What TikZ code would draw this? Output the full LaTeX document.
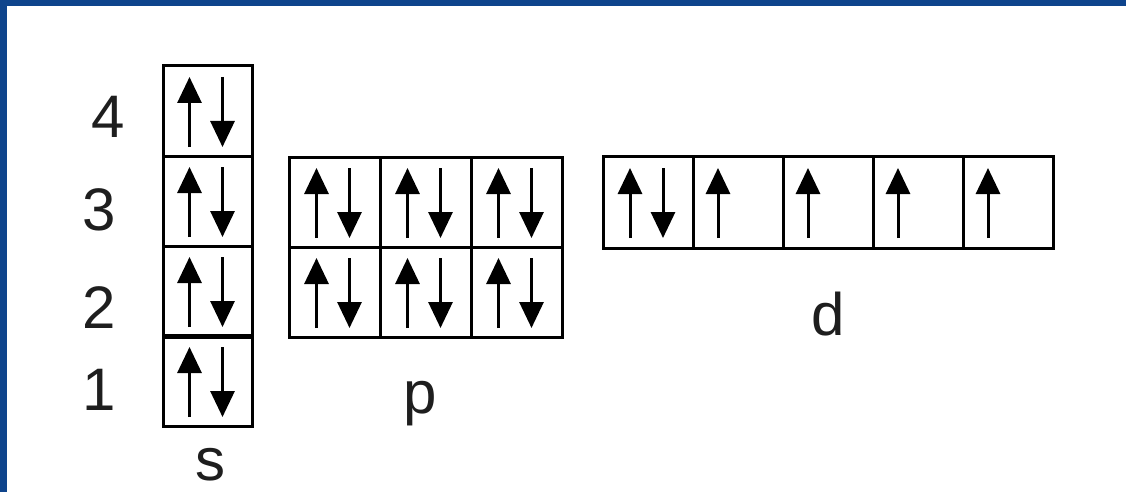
\documentclass[tikz,border=0pt]{standalone}
\usepackage{fontspec}
\setmainfont{Liberation Sans}
\usetikzlibrary{arrows.meta}
\definecolor{slideblue}{RGB}{14,68,140}
\definecolor{labelgray}{RGB}{30,30,30}
\tikzset{
  orb/.style={draw=black, line width=3pt, minimum width=89pt, minimum height=90pt, inner sep=0pt, outer sep=0pt},
  spin/.style={line width=3pt, -{Triangle[width=24pt,length=26pt]}},
  lbl/.style={font=\fontsize{60}{64}\selectfont, text=labelgray, inner sep=0pt, anchor=base}
}
\begin{document}
\begin{tikzpicture}[x=1pt,y=-1pt]
\useasboundingbox (0,0) rectangle (1126,492);
\fill[slideblue] (0,0) rectangle (1126,492);
\fill[white] (7,6) rectangle (1126,492);
% s column
\node[orb] (s4) at (207.5,111) {};
\node[orb] (s3) at (207.5,201) {};
\node[orb] (s2) at (207.5,291) {};
\node[orb] (s1) at (207.5,381) {};
\draw[line width=5pt] (s1.north west) -- (s1.north east);
% p block
\node[orb, minimum width=91pt] (p31) at (334.5,202) {};
\node[orb, minimum width=91pt] (p32) at (425.5,202) {};
\node[orb, minimum width=91pt] (p33) at (516.5,202) {};
\node[orb, minimum width=91pt] (p21) at (334.5,292) {};
\node[orb, minimum width=91pt] (p22) at (425.5,292) {};
\node[orb, minimum width=91pt] (p23) at (516.5,292) {};
% d row
\node[orb, minimum width=90pt, minimum height=92pt] (d1) at (648,202) {};
\node[orb, minimum width=90pt, minimum height=92pt] (d2) at (738,202) {};
\node[orb, minimum width=90pt, minimum height=92pt] (d3) at (828,202) {};
\node[orb, minimum width=90pt, minimum height=92pt] (d4) at (918,202) {};
\node[orb, minimum width=90pt, minimum height=92pt] (d5) at (1008,202) {};
% paired spins
\foreach \b in {s4,s3,s2,s1,p31,p32,p33,p21,p22,p23,d1}{
  \coordinate (\b-ub) at ([xshift=-18pt,yshift=-36pt]\b.center);
  \coordinate (\b-ut) at ([xshift=-18pt,yshift=34pt]\b.center);
  \coordinate (\b-dt) at ([xshift=15pt,yshift=34pt]\b.center);
  \coordinate (\b-db) at ([xshift=15pt,yshift=-36pt]\b.center);
  \draw[spin] (\b-ub) -- (\b-ut);
  \draw[spin] (\b-dt) -- (\b-db);
}
% single spins
\foreach \b in {d2,d3,d4,d5}{
  \coordinate (\b-ub) at ([xshift=-20pt,yshift=-36pt]\b.center);
  \coordinate (\b-ut) at ([xshift=-20pt,yshift=34pt]\b.center);
  \draw[spin] (\b-ub) -- (\b-ut);
}
% labels
\node[lbl] (n4) at (108,137) {4};
\node[lbl] (n3) at (99,230) {3};
\node[lbl] (n2) at (99,328) {2};
\node[lbl] (n1) at (99,410) {1};
\node[lbl] (ls) at (210,480) {s};
\node[lbl] (lp) at (420,413) {p};
\node[lbl] (ld) at (828,335) {d};
\end{tikzpicture}
\end{document}
